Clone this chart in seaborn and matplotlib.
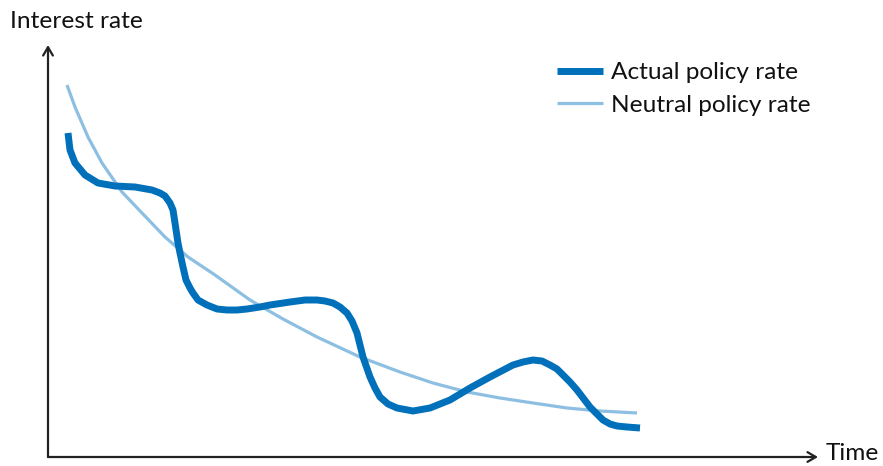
import matplotlib
matplotlib.use("Agg")
import matplotlib.pyplot as plt
import seaborn as sns
import pandas as pd

# Values (time units, rate units; arbitrary scale)
actual_time = [20, 22, 27, 37, 50, 67, 87, 104, 112, 117, 122, 125, 127, 130, 132, 135,
               138, 142, 145, 150, 159, 169, 179, 189, 199, 212, 222, 242, 257, 269,
               277, 285, 292, 299, 304, 309, 315, 322, 327, 332, 340, 349, 365, 382,
               402, 422, 442, 465, 475, 485, 494, 502, 509, 515, 522, 529, 542, 549,
               555, 562, 569, 579, 592]
actual_rate = [324, 307, 294, 282, 274, 271, 270, 267, 264, 261, 254, 247, 234, 214, 204, 190,
               177, 169, 164, 157, 152, 148, 147, 147, 148, 150, 152, 155, 157, 157,
               156, 154, 150, 144, 136, 124, 100, 80, 69, 60, 53, 49, 46, 49,
               57, 69, 80, 92, 95, 97, 96, 92, 88, 82, 75, 67, 50, 43,
               37, 33, 31, 30, 29]

neutral_time = [19, 27, 40, 54, 74, 94, 117, 140, 167, 202, 235, 269, 312, 352, 385,
                419, 452, 485, 519, 552, 589]
neutral_rate = [372, 350, 320, 294, 265, 244, 220, 200, 182, 157, 138, 120, 100, 85, 74,
                65, 59, 54, 49, 46, 44]

series_names = ["Actual policy rate", "Neutral policy rate"]
x_label = "Time"
y_label = "Interest rate"

actual_color = "#0070BA"
neutral_color = "#8DBFE2"

W, H = 883, 466
fig = plt.figure(figsize=(W / 100, H / 100), dpi=100)
sns.set_style("white")
plt.rcParams['font.family'] = ['Lato', 'DejaVu Sans']

# axes span: x pixels 48..818, y pixels 457..45
ax = fig.add_axes([48 / W, (H - 457) / H, (818 - 48) / W, (457 - 45) / H])
ax.set_xlim(0, 770)
ax.set_ylim(0, 412)

df_a = pd.DataFrame({"t": actual_time, "r": actual_rate})
df_n = pd.DataFrame({"t": neutral_time, "r": neutral_rate})

sns.lineplot(data=df_n, x="t", y="r", ax=ax, color=neutral_color, linewidth=2.3,
             label=series_names[1], sort=False, zorder=2,
             solid_joinstyle='round', solid_capstyle='butt')
sns.lineplot(data=df_a, x="t", y="r", ax=ax, color=actual_color, linewidth=5.0,
             label=series_names[0], sort=False, zorder=3,
             solid_joinstyle='round', solid_capstyle='butt')

for s in ax.spines.values():
    s.set_visible(False)
ax.set_xticks([])
ax.set_yticks([])
ax.set_xlabel("")
ax.set_ylabel("")

# arrows for axes
arrow_kw = dict(arrowstyle="->,head_length=0.6,head_width=0.35", color="#222222", lw=1.6,
                shrinkA=0, shrinkB=0)
ax.annotate("", xy=(1, 0), xycoords="axes fraction", xytext=(0, 0),
            textcoords="axes fraction", arrowprops=arrow_kw, annotation_clip=False)
ax.annotate("", xy=(0, 1), xycoords="axes fraction", xytext=(0, 0),
            textcoords="axes fraction", arrowprops=arrow_kw, annotation_clip=False)

fig.text(10 / W, 1 - 22 / H, y_label, fontsize=17.6, ha="left", va="center", color="#111111")
fig.text(826 / W, 1 - 453 / H, x_label, fontsize=17.6, ha="left", va="center", color="#111111")

handles, labels = ax.get_legend_handles_labels()
order = [labels.index(n) for n in series_names]
leg = ax.legend([handles[i] for i in order], [labels[i] for i in order],
                loc="upper left", bbox_to_anchor=(557 / W, 1 - 62 / H),
                bbox_transform=fig.transFigure, frameon=False, fontsize=17.6,
                handlelength=1.9, handletextpad=0.3, labelspacing=0.48, borderpad=0,
                borderaxespad=0)
for t in leg.get_texts():
    t.set_color("#111111")

fig.savefig("out.png", dpi=100)
